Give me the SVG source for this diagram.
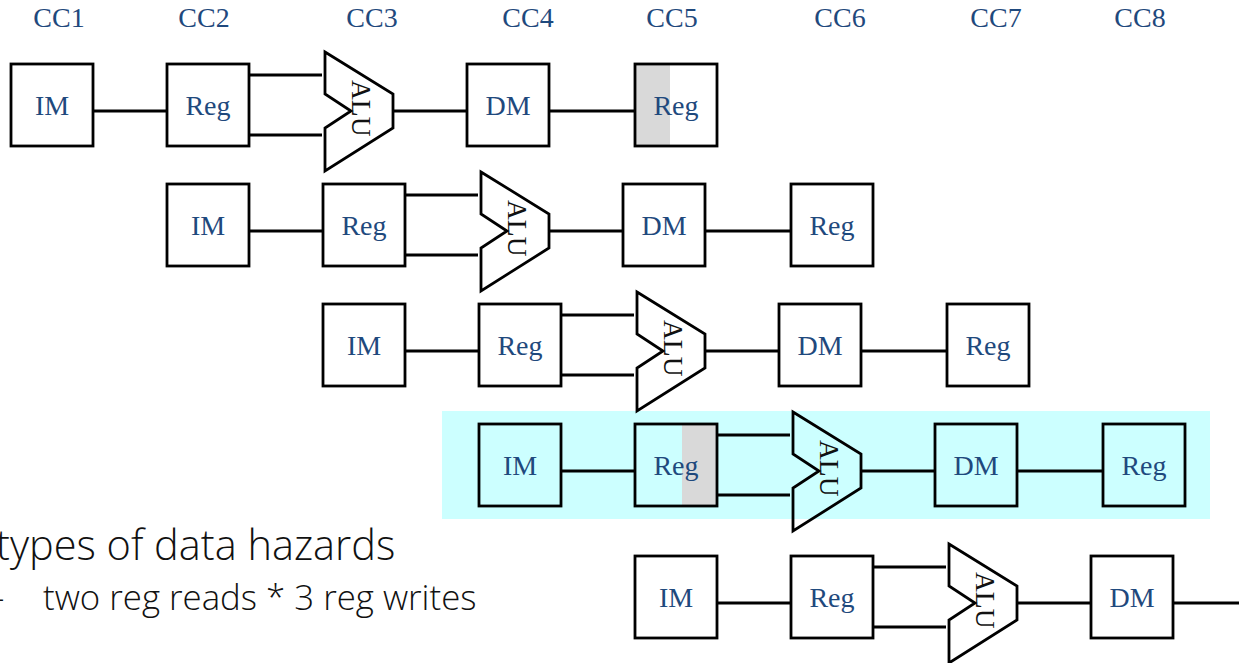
<svg xmlns="http://www.w3.org/2000/svg" width="1239" height="663" viewBox="0 0 1239 663">
<style>
.s{fill:none;stroke:#000;stroke-width:2.8}
.t{font-family:"Liberation Serif","Times New Roman",serif;font-size:28px;fill:#1f497d;text-anchor:middle}
.a{font-family:"Liberation Serif","Times New Roman",serif;font-size:27.5px;fill:#111}
.h{font-family:"Open Sans","Noto Sans",sans-serif;font-weight:300;fill:#111}
.g{fill:#d9d9d9}
</style>
<defs>
<polygon id="alu" class="s" points="325,52 393,94 393,128 325,171 325,128 351,111 325,94"/>
<rect id="box" class="s" x="0" y="0" width="82" height="82"/>
</defs>
<rect width="1239" height="663" fill="#fff"/>
<rect x="442" y="411" width="768" height="108" fill="#ccffff"/>
<rect class="g" x="636" y="65" width="34" height="80"/>
<rect class="g" x="682" y="425" width="34" height="80"/>
<g id="connectors" class="s">
<path d="M93 111H167M249 75H322M249 135H322M393 111H467M549 111H635"/>
<path d="M249 231H323M405 195H478M405 255H478M549 231H623M705 231H791"/>
<path d="M405 351H479M561 315H634M561 375H634M705 351H779M861 351H947"/>
<path d="M561 471H635M717 435H790M717 495H790M861 471H935M1017 471H1103"/>
<path d="M717 603H791M873 567H946M873 627H946M1017 603H1091M1173 603H1239"/>
</g>
<g id="cc-labels" class="t">
<text x="59" y="27">CC1</text><text x="204" y="27">CC2</text><text x="372" y="27">CC3</text><text x="528" y="27">CC4</text><text x="672" y="27">CC5</text><text x="840" y="27">CC6</text><text x="996" y="27">CC7</text><text x="1140" y="27">CC8</text>
</g>
<g id="r1-im"><use href="#box" x="11" y="64"/><text class="t" x="52" y="114.5">IM</text></g>
<g id="r1-reg"><use href="#box" x="167" y="64"/><text class="t" x="208" y="114.5">Reg</text></g>
<g id="r1-alu"><use href="#alu"/><text class="a" transform="translate(352,80) rotate(90)">ALU</text></g>
<g id="r1-dm"><use href="#box" x="467" y="64"/><text class="t" x="508" y="114.5">DM</text></g>
<g id="r1-wb"><use href="#box" x="635" y="64"/><text class="t" x="676" y="114.5">Reg</text></g>
<g id="r2-im"><use href="#box" x="167" y="184"/><text class="t" x="208" y="234.5">IM</text></g>
<g id="r2-reg"><use href="#box" x="323" y="184"/><text class="t" x="364" y="234.5">Reg</text></g>
<g id="r2-alu"><use href="#alu" x="156" y="120"/><text class="a" transform="translate(508,200) rotate(90)">ALU</text></g>
<g id="r2-dm"><use href="#box" x="623" y="184"/><text class="t" x="664" y="234.5">DM</text></g>
<g id="r2-wb"><use href="#box" x="791" y="184"/><text class="t" x="832" y="234.5">Reg</text></g>
<g id="r3-im"><use href="#box" x="323" y="304"/><text class="t" x="364" y="354.5">IM</text></g>
<g id="r3-reg"><use href="#box" x="479" y="304"/><text class="t" x="520" y="354.5">Reg</text></g>
<g id="r3-alu"><use href="#alu" x="312" y="240"/><text class="a" transform="translate(664,320) rotate(90)">ALU</text></g>
<g id="r3-dm"><use href="#box" x="779" y="304"/><text class="t" x="820" y="354.5">DM</text></g>
<g id="r3-wb"><use href="#box" x="947" y="304"/><text class="t" x="988" y="354.5">Reg</text></g>
<g id="r4-im"><use href="#box" x="479" y="424"/><text class="t" x="520" y="474.5">IM</text></g>
<g id="r4-reg"><use href="#box" x="635" y="424"/><text class="t" x="676" y="474.5">Reg</text></g>
<g id="r4-alu"><use href="#alu" x="468" y="360"/><text class="a" transform="translate(820,440) rotate(90)">ALU</text></g>
<g id="r4-dm"><use href="#box" x="935" y="424"/><text class="t" x="976" y="474.5">DM</text></g>
<g id="r4-wb"><use href="#box" x="1103" y="424"/><text class="t" x="1144" y="474.5">Reg</text></g>
<g id="r5-im"><use href="#box" x="635" y="556"/><text class="t" x="676" y="606.5">IM</text></g>
<g id="r5-reg"><use href="#box" x="791" y="556"/><text class="t" x="832" y="606.5">Reg</text></g>
<g id="r5-alu"><use href="#alu" x="624" y="492"/><text class="a" transform="translate(976,572) rotate(90)">ALU</text></g>
<g id="r5-dm"><use href="#box" x="1091" y="556"/><text class="t" x="1132" y="606.5">DM</text></g>
<text class="h" x="-4" y="560" font-size="41.5">types of data hazards</text>
<text class="h" x="-13" y="610" font-size="34.8">–</text>
<text class="h" x="43" y="610" font-size="34.8">two reg reads * 3 reg writes</text>
</svg>
